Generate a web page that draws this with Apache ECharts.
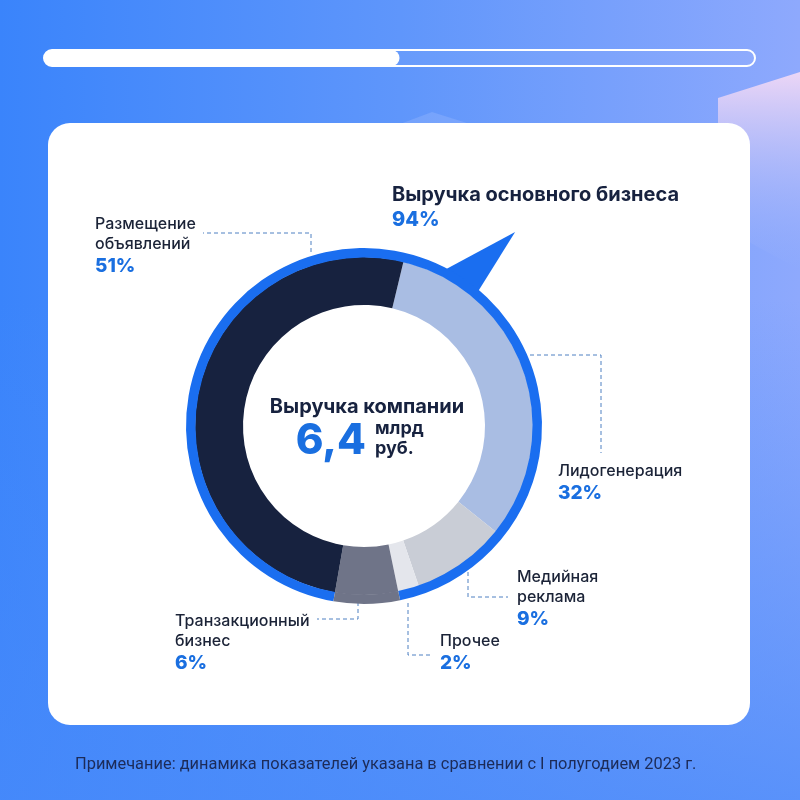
<!DOCTYPE html>
<html><head><meta charset="utf-8">
<script src="https://cdn.jsdelivr.net/npm/echarts@6/dist/echarts.min.js"></script>
<style>html,body{margin:0;padding:0;background:#fff;}#c{width:800px;height:800px;}</style>
</head><body><div id="c"></div>
<script>
// ---- data ----
const categories = ['Лидогенерация', 'Медийная\nреклама', 'Прочее', 'Транзакционный\nбизнес', 'Размещение\nобъявлений'];
const shares = [32, 9, 2, 6, 51];
const coreName = 'Выручка основного бизнеса';
const coreShare = 94;
const nonCoreIndex = 3;
const centerTitle = 'Выручка компании';
const centerValue = '6,4';
const centerUnit = ['млрд', 'руб.'];
const footnote = 'Примечание: динамика показателей указана в сравнении с I полугодием 2023 г.';
const progressShare = 0.5;

// ---- layout / style ----
const CX = 364, CY = 426, R_IN = 121, R_MID = 169, R_OUT = 178;
const START = 76.5;
const sliceColors = ['#a9bde3', '#c9cdd6', '#e4e6ec', '#6f7488', '#17223f'];
const ringColor = '#1a6ef0';
const navy = '#17223f';
const accent = '#1a6fe0';
const FONT = 'Inter';
const labelBoxes = [[558, 461], [517, 567], [440, 631], [175, 611], [95, 214]];
const leaderLines = [
  [[530, 355], [601, 355], [601, 453]],
  [[468, 572], [468, 597], [508, 597]],
  [[408, 603], [408, 655], [432, 655]],
  [[358, 595], [358, 619], [317, 619]],
  [[311, 252], [311, 233], [203, 233]]
];
const coreLabelBox = [392, 181];

function polar(deg, r) {
  const a = deg * Math.PI / 180;
  return [CX + r * Math.sin(a), CY - r * Math.cos(a)];
}

const total = shares.reduce((a, b) => a + b, 0);
const beforeNonCoreEnd = shares.slice(0, nonCoreIndex + 1).reduce((a, b) => a + b, 0);
const outerStart = START - 360 * beforeNonCoreEnd / total;

const chart = echarts.init(document.getElementById('c'), null, {renderer: 'canvas'});

const innerData = categories.map((c, i) => ({
  name: c, value: shares[i], itemStyle: {color: sliceColors[i]}
}));
const outerData = [
  {name: coreName, value: coreShare, itemStyle: {color: ringColor}},
  {name: categories[nonCoreIndex], value: shares[nonCoreIndex], itemStyle: {color: sliceColors[nonCoreIndex]},
   label: {show: false}}
];

// pointer triangle (decoration) computed from the ring geometry
const tri = [polar(26.5, 172), polar(37.9, 246), polar(40.5, 172)];

const option = {
  animation: false,
  graphic: [
    {type: 'rect', z: -20, shape: {x: 0, y: 0, width: 800, height: 800},
     style: {fill: new echarts.graphic.LinearGradient(0, 0, 1, 0, [
       {offset: 0, color: '#3a84fb'}, {offset: 0.5, color: '#5f96fb'}, {offset: 1, color: '#8ea9fd'}])}},
    {type: 'rect', z: -19, shape: {x: 0, y: 300, width: 800, height: 500},
     style: {fill: new echarts.graphic.LinearGradient(0, 0, 0, 1, [
       {offset: 0, color: 'rgba(72,138,250,0)'}, {offset: 1, color: 'rgba(72,138,250,0.75)'}])}},
    {type: 'polygon', z: -18, shape: {points: [[718, 98], [800, 72], [800, 270], [718, 225]]},
     style: {fill: new echarts.graphic.LinearGradient(0, 0, 0, 1, [
       {offset: 0, color: '#ecd6f6'}, {offset: 1, color: 'rgba(140,170,252,0.2)'}])}},
    {type: 'polygon', z: -18, shape: {points: [[400, 124], [432, 112], [470, 124]]},
     style: {fill: 'rgba(180,200,255,0.25)'}},
    // progress bar
    {type: 'rect', z: -10, shape: {x: 44, y: 50, width: 711, height: 16, r: 8},
     style: {fill: 'rgba(255,255,255,0.05)', stroke: '#ffffff', lineWidth: 2}},
    {type: 'rect', z: -9, shape: {x: 44, y: 50, width: 711 * progressShare, height: 16, r: 8},
     style: {fill: '#ffffff'}},
    // card
    {type: 'rect', z: -10, shape: {x: 48, y: 123, width: 702, height: 602, r: 22},
     style: {fill: '#ffffff'}},
    // pointer
    {type: 'polygon', z: -5, shape: {points: tri}, style: {fill: ringColor}},
    // center text
    {type: 'text', z: 5, x: 367, y: 407, style: {text: centerTitle, fill: navy,
      font: '700 20px ' + FONT, textAlign: 'center', textVerticalAlign: 'middle'}},
    {type: 'text', z: 5, x: 366, y: 441, style: {text: centerValue, fill: accent,
      font: '800 42px ' + FONT, textAlign: 'right', textVerticalAlign: 'middle'}},
    {type: 'text', z: 5, x: 375, y: 429, style: {text: centerUnit[0], fill: navy,
      font: '700 18px ' + FONT, textAlign: 'left', textVerticalAlign: 'middle'}},
    {type: 'text', z: 5, x: 375, y: 449, style: {text: centerUnit[1], fill: navy,
      font: '700 18px ' + FONT, textAlign: 'left', textVerticalAlign: 'middle'}},
    // footnote
    {type: 'text', z: 5, x: 75, y: 765, style: {text: footnote, fill: '#1c2b58',
      font: '400 16.4px Roboto', textAlign: 'left', textVerticalAlign: 'middle'}}
  ],
  series: [
    {
      type: 'pie', z: 2,
      center: [CX, CY], radius: [R_IN, R_MID],
      startAngle: START, clockwise: true,
      avoidLabelOverlap: false,
      emphasis: {disabled: true}, silent: true,
      data: innerData,
      label: {
        show: true, position: 'outside',
        formatter: p => '{n|' + p.name + '}\n{p|' + p.value + '%}',
        rich: {
          n: {fontFamily: FONT, fontSize: 16, fontWeight: 500, lineHeight: 20, color: '#1b2337'},
          p: {fontFamily: FONT, fontSize: 19, fontWeight: 800, lineHeight: 24, color: accent}
        }
      },
      labelLine: {show: true, length: 10, length2: 10, smooth: false,
        lineStyle: {color: '#4f80c2', width: 1, type: [4, 3]}},
      labelLayout: function (params) {
        const i = params.dataIndex;
        return {x: labelBoxes[i][0], y: labelBoxes[i][1], align: 'left', verticalAlign: 'top',
          labelLinePoints: leaderLines[i]};
      }
    },
    {
      type: 'pie', z: 3,
      center: [CX, CY], radius: [R_MID - 0.5, R_OUT],
      startAngle: outerStart, clockwise: true,
      avoidLabelOverlap: false,
      emphasis: {disabled: true}, silent: true,
      data: outerData,
      label: {
        show: true, position: 'outside',
        formatter: p => '{t|' + p.name + '}\n{p|' + p.value + '%}',
        rich: {
          t: {fontFamily: FONT, fontSize: 20, fontWeight: 700, lineHeight: 27, color: navy},
          p: {fontFamily: FONT, fontSize: 20, fontWeight: 800, lineHeight: 24, color: accent}
        }
      },
      labelLine: {show: false},
      labelLayout: function () {
        return {x: coreLabelBox[0], y: coreLabelBox[1], align: 'left', verticalAlign: 'top'};
      }
    }
  ]
};
chart.setOption(option);
</script>
</body></html>
